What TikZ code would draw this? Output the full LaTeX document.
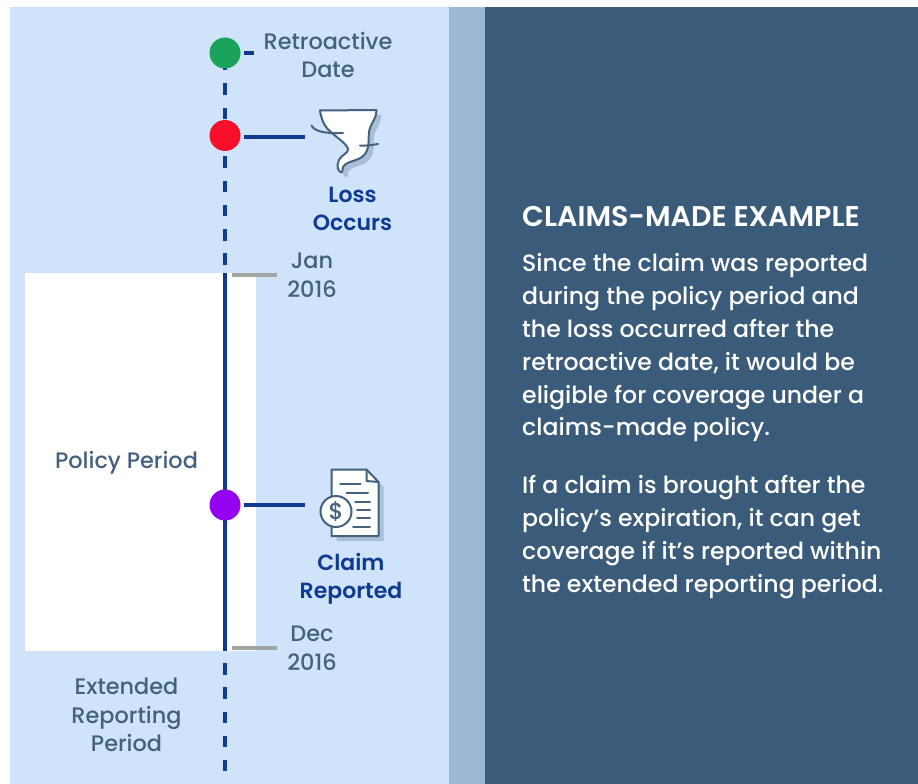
\documentclass[tikz,border=0pt]{standalone}
\usepackage{fontspec}
\setmainfont{Poppins}[UprightFont=* Medium,BoldFont=* SemiBold]
\definecolor{panel}{HTML}{CFE3FA}
\definecolor{strip}{HTML}{9DB8D3}
\definecolor{dark}{HTML}{3B5B7A}
\definecolor{greyblue}{HTML}{44617F}
\definecolor{navy}{HTML}{0F3A92}
\definecolor{tickc}{HTML}{A3A5A3}
\definecolor{iconshadow}{HTML}{A9BFD6}
\definecolor{dotgreen}{HTML}{1BA35C}
\definecolor{dotpurple}{HTML}{9400F0}
\definecolor{dotred}{HTML}{FA0F2A}
\tikzset{
  dot/.style={circle,inner sep=0pt,minimum size=31pt},
  solidline/.style={navy,line width=4pt},
  dashline/.style={navy,line width=4pt,dash pattern=on 11.5pt off 12.8pt},
  ticklink/.style={tickc,line width=4pt},
  lab/.style={text=greyblue,font=\fontsize{22.4}{28.5}\selectfont,align=center,inner sep=0pt},
  blab/.style={text=navy,font=\fontsize{22}{28.5}\selectfont\bfseries,align=center,inner sep=0pt},
  body/.style={text=white,font=\fontsize{23.6}{32.8}\selectfont,align=left,anchor=north west,inner sep=0pt},
  iconline/.style={greyblue,line width=2pt,line cap=round,line join=round},
}
\begin{document}
\begin{tikzpicture}[x=1pt,y=-1pt]
\useasboundingbox (0,0) rectangle (918,784);
\fill[white] (0,0) rectangle (918,784);
\fill[panel] (10,7) rectangle (449,784);
\fill[strip] (449,7) rectangle (485,784);
\fill[dark] (485,7) rectangle (918,784);
\fill[white] (25,273) rectangle (256,651);
% timeline anchors
\coordinate (top) at (225,273);
\coordinate (bot) at (225,651);
\coordinate (end) at (225,771);
\coordinate (gs) at (225,59);
\coordinate (ds) at (225,663);
% timeline connectors (drawn below the dots)
\draw[dashline] (gs) -- (top);
\draw[solidline] (top) -- (bot);
\draw[dashline] (ds) -- (end);
\node[dot,fill=dotgreen] (g) at (225,53) {};
\node[dot,fill=dotred] (r) at (225,135.5) {};
\node[dot,fill=dotpurple] (p) at (225,505) {};
% stubs
\coordinate (gx) at (254,53);
\coordinate (rx) at (305,136.5);
\coordinate (px) at (305,504.5);
\draw[solidline] (244,53) -- (gx);
\draw[solidline] (244,136.5) -- (rx);
\draw[solidline] (244,504.5) -- (px);
\draw[ticklink] (232,274.5) -- (277,274.5);
\draw[ticklink] (232,647.5) -- (277,647.5);
% tornado icon
\def\tornado{(320,110.5) -- (376.5,110) .. controls (377,117) and (372,122) .. (370,128) .. controls (367,136) and (371,146) .. (365,154) .. controls (359,162) and (347,160) .. (343,167) .. controls (342,170) and (343,172) .. (341.5,172.5) .. controls (338,172) and (336,166) .. (339,160) .. controls (341,155) and (349,153) .. (348,149) .. controls (346,143) and (336,137) .. (331,132) .. controls (324,127) and (321,118) .. (320,110.5) -- cycle}
\fill[iconshadow,shift={(5,5)}] \tornado;
\fill[white] \tornado;
\draw[iconline] \tornado;
\draw[iconline] (311.5,125.5) .. controls (314,131) and (325,134) .. (343,133);
\draw[iconline] (360,145.5) .. controls (366,146) and (372,145) .. (378,144);
% document icon
\def\docshape{(331.5,469.5) -- (366.5,469.5) -- (378.5,482) -- (378.5,536) -- (331.5,536) -- cycle}
\fill[iconshadow,shift={(5,5)}] \docshape;
\fill[white] \docshape;
\draw[iconline] \docshape;
\draw[iconline] (366.5,469.5) -- (366.5,481) -- (378.5,482);
\foreach \xa/\xb/\yy in {340/360.5/484,346.5/368/492.5,355/370/501.5,357/370/510,357/370/518,353/370/526.5}
  \draw[iconline] (\xa,\yy) -- (\xb,\yy);
\node[circle,draw=greyblue,line width=2pt,fill=white,minimum size=31pt,inner sep=0pt,text=greyblue,font=\fontsize{23}{23}\selectfont] (dollar) at (336,511.5) {\$};
% labels
\node[lab] (lretro) at (328,55) {Retroactive\\Date};
\node[blab] (lloss) at (352.5,209) {Loss\\Occurs};
\node[lab] (ljan) at (312,275) {Jan\\2016};
\node[blab] (lclaim) at (351,579) {Claim\\Reported};
\node[lab] (ldec) at (312,648) {Dec\\2016};
\node[lab] (lpol) at (126.5,463) {Policy Period};
\node[lab] (lext) at (126.5,715) {Extended\\Reporting\\Period};
% right text
\node[text=white,font=\fontsize{28.5}{30}\selectfont\bfseries,anchor=base west,inner sep=0pt] (head) at (522,226) {CLAIMS-MADE EXAMPLE};
\node[body] (p1) at (522,253.5) {Since the claim was reported\\during the policy period and\\the loss occurred after the\\retroactive date, it would be\\eligible for coverage under a\\claims-made policy.};
\node[body] (p2) at (522,475.5) {If a claim is brought after the\\policy’s expiration, it can get\\coverage if it’s reported within\\the extended reporting period.};
\end{tikzpicture}
\end{document}
